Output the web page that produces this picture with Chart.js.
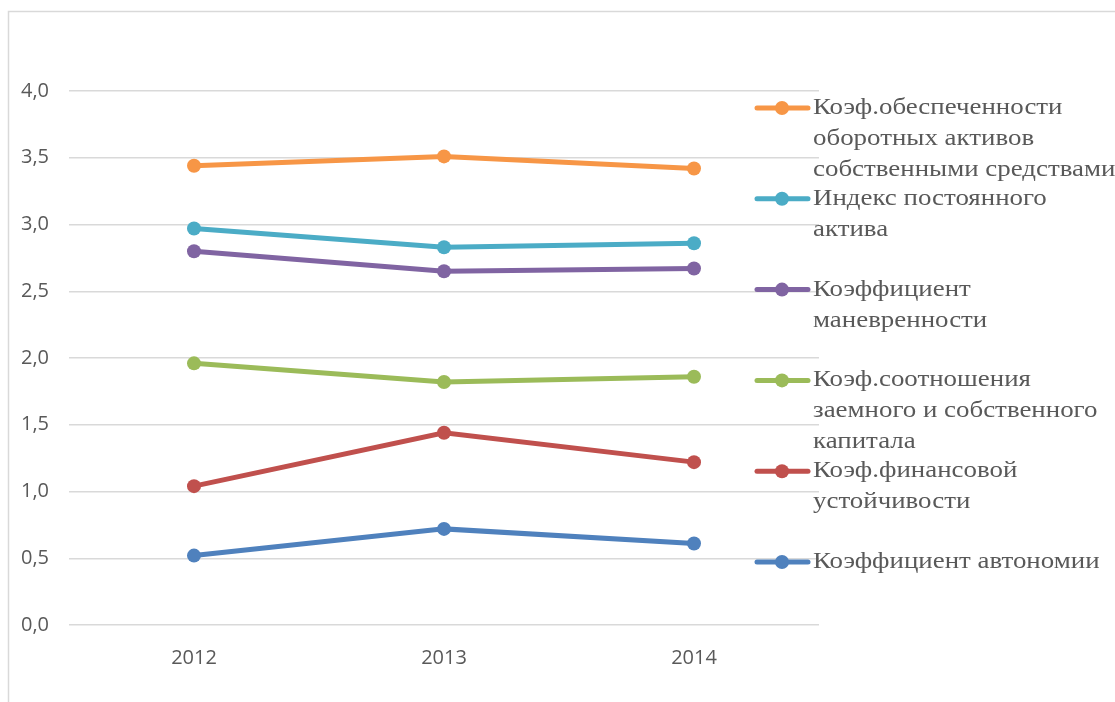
<!DOCTYPE html>
<html>
<head>
<meta charset="utf-8">
<script src="https://cdn.jsdelivr.net/npm/chart.js@4/dist/chart.umd.min.js"></script>
<style>
  html, body { margin: 0; padding: 0; background: #fff; }
  #wrap { width: 1115px; height: 702px; }
</style>
</head>
<body>
<div id="wrap"><canvas id="chart" width="1115" height="702"></canvas></div>
<script>
  const years = ['2012', '2013', '2014'];

  // series values
  const avtonomii = [0.52, 0.72, 0.61];
  const finUstoich = [1.04, 1.44, 1.22];
  const zaemSobstv = [1.96, 1.82, 1.86];
  const manevrennosti = [2.80, 2.65, 2.67];
  const postAktiva = [2.97, 2.83, 2.86];
  const obespechennosti = [3.44, 3.51, 3.42];

  const yTicks = [0, 0.5, 1, 1.5, 2, 2.5, 3, 3.5, 4];

  // legend text, split into lines like the original
  const legendLines = [
    ['Коэф.обеспеченности', 'оборотных активов', 'собственными средствами'],
    ['Индекс постоянного', 'актива'],
    ['Коэффициент', 'маневренности'],
    ['Коэф.соотношения', 'заемного и собственного', 'капитала'],
    ['Коэф.финансовой', 'устойчивости'],
    ['Коэффициент автономии']
  ];

  const colors = {
    blue: '#4F81BD', red: '#C0504D', green: '#9BBB59',
    purple: '#8064A2', teal: '#4BACC6', orange: '#F79646'
  };

  function series(label, data, color) {
    return {
      label: label,
      data: data,
      borderColor: color,
      backgroundColor: color,
      pointBackgroundColor: color,
      pointBorderColor: color,
      borderWidth: 5,
      pointRadius: 7,
      pointBorderWidth: 0,
      pointHoverRadius: 7,
      tension: 0
    };
  }

  const datasets = [
    series('Коэффициент автономии', avtonomii, colors.blue),
    series('Коэф.финансовой устойчивости', finUstoich, colors.red),
    series('Коэф.соотношения заемного и собственного капитала', zaemSobstv, colors.green),
    series('Коэффициент маневренности', manevrennosti, colors.purple),
    series('Индекс постоянного актива', postAktiva, colors.teal),
    series('Коэф.обеспеченности оборотных активов собственными средствами', obespechennosti, colors.orange)
  ];

  // outer frame of the chart object
  const framePlugin = {
    id: 'frame',
    beforeDraw(chart) {
      const ctx = chart.ctx;
      ctx.save();
      ctx.fillStyle = '#fff';
      ctx.fillRect(0, 0, chart.width, chart.height);
      ctx.strokeStyle = '#d9d9d9';
      ctx.lineWidth = 1.5;
      ctx.strokeRect(8.5, 11.5, 1300, 900);
      ctx.restore();
    }
  };

  // legend on the right, top to bottom in reverse series order
  const sideLegend = {
    id: 'sideLegend',
    afterDraw(chart) {
      const ctx = chart.ctx;
      const ds = chart.data.datasets.slice().reverse();
      ctx.save();
      ds.forEach((d, i) => {
        const y = 108 + i * 90.8;
        ctx.strokeStyle = d.borderColor;
        ctx.lineWidth = 5;
        ctx.lineCap = 'round';
        ctx.beginPath();
        ctx.moveTo(757, y);
        ctx.lineTo(808, y);
        ctx.stroke();
        ctx.fillStyle = d.borderColor;
        ctx.beginPath();
        ctx.arc(782, y, 7, 0, Math.PI * 2);
        ctx.fill();
        ctx.fillStyle = '#595959';
        ctx.font = '23px "Liberation Serif", "Times New Roman", serif';
        ctx.textBaseline = 'middle';
        ctx.textAlign = 'left';
        legendLines[i].forEach((line, j) => {
          // the original text is a bit wider than the font, stretch it sideways
          ctx.save();
          ctx.translate(813, y + j * 31);
          ctx.scale(1.17, 1);
          ctx.fillText(line, 0, 0);
          ctx.restore();
        });
      });
      ctx.restore();
    }
  };

  new Chart(document.getElementById('chart'), {
    type: 'line',
    data: { labels: years, datasets: datasets },
    options: {
      responsive: false,
      animation: false,
      events: [],
      layout: { padding: { top: 91, right: 296, bottom: 0, left: 0 } },
      plugins: {
        legend: { display: false },
        tooltip: { enabled: false }
      },
      scales: {
        x: {
          offset: true,
          grid: { display: false },
          border: { display: false },
          ticks: {
            color: '#595959',
            font: { family: '"Open Sans", "Liberation Sans", sans-serif', size: 20 },
            padding: 13
          },
          afterFit(scale) { scale.height = 77; }
        },
        y: {
          min: 0,
          max: 4,
          afterBuildTicks(scale) {
            scale.ticks = yTicks.map(v => ({ value: v }));
          },
          grid: { color: '#d9d9d9', lineWidth: 1.5, drawTicks: false },
          border: { display: false },
          ticks: {
            color: '#595959',
            font: { family: '"Open Sans", "Liberation Sans", sans-serif', size: 20 },
            padding: 20,
            callback: v => v.toFixed(1).replace('.', ',')
          },
          afterFit(scale) { scale.width = 69; }
        }
      }
    },
    plugins: [framePlugin, sideLegend]
  });
</script>
</body>
</html>
